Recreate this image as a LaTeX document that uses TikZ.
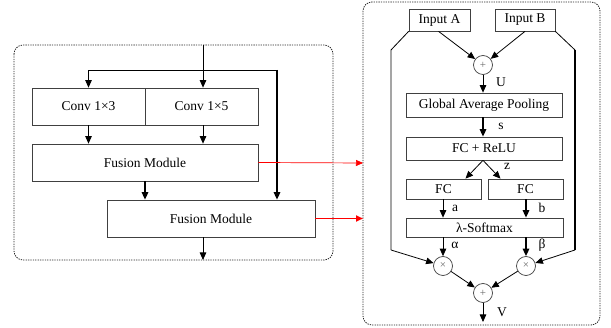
\documentclass[tikz,border=0pt]{standalone}
\usepackage{fontspec}
\setmainfont{Liberation Serif}
\usetikzlibrary{arrows.meta,calc}

\tikzset{
  blk/.style={draw=black!75, line width=0.7pt, inner sep=0pt, font=\fontsize{13.5}{15}\selectfont},
  opc/.style={draw=black!75, line width=0.7pt, circle, minimum size=19pt, inner sep=0pt, text=black!60, font=\fontsize{11}{12}\selectfont},
  arr/.style={line width=0.8pt, -{Triangle[length=7.5pt,width=6.5pt]}},
  tarr/.style={line width=1.5pt, -{Triangle[length=7.5pt,width=6.5pt]}},
  lbl/.style={font=\fontsize{13.5}{15}\selectfont},
  frame/.style={draw=black!85, line width=0.8pt, dash pattern=on 1.3pt off 1.1pt, rounded corners=9pt}
}

\begin{document}
\begin{tikzpicture}[x=1pt,y=-1pt]
    \useasboundingbox (0,0) rectangle (611,328);

    % left block
    \draw[frame] (14,45) rectangle (333,260);

    \node[blk, minimum width=113pt, minimum height=37pt] (conv13) at (88.5,106.5) {Conv 1×3};
    \node[blk, minimum width=113pt, minimum height=37pt] (conv15) at (201.5,106.5) {Conv 1×5};
    \node[blk, minimum width=226pt, minimum height=37pt] (fus1) at (145,162.5) {Fusion Module};
    \node[blk, minimum width=208pt, minimum height=37pt] (fus2) at (211,218.5) {Fusion Module};

    \coordinate (top) at (203,45);
    \coordinate (split) at (203,70);
    \coordinate (rb) at (277,70);
    \coordinate (out) at (203,260);

    \draw[line width=0.8pt] (top) -- (split);
    \draw[arr] (split) -| (conv13.north);
    \draw[arr] (split) -- (split |- conv15.north);
    \draw[line width=0.8pt] (split) -- (rb);
    \draw[tarr] (rb) -- (rb |- fus2.north);
    \draw[arr] (conv13.south) -- (conv13.south |- fus1.north);
    \draw[arr] (split |- conv15.south) -- (split |- fus1.north);
    \draw[tarr] (fus1.south) -- (fus1.south |- fus2.north);
    \draw[arr] (out |- fus2.south) -- (out);

    % right block
    \draw[frame] (363,2) rectangle (600,325);

    \node[blk, minimum width=61pt, minimum height=22pt] (inA) at (439.5,20) {Input A};
    \node[blk, minimum width=60pt, minimum height=22pt] (inB) at (525,20) {Input B};
    \node[opc] (sum1) at (483,65) {+};
    \node[blk, minimum width=156pt, minimum height=24pt] (gap) at (484,105) {Global Average Pooling};
    \node[blk, minimum width=156pt, minimum height=23pt] (fcr) at (484,148.5) {FC + ReLU};
    \node[blk, minimum width=75pt, minimum height=20pt] (fca) at (443.5,189) {FC};
    \node[blk, minimum width=75pt, minimum height=20pt] (fcb) at (525.5,189) {FC};
    \node[blk, minimum width=157pt, minimum height=19pt] (smax) at (484.5,227.5) {λ-Softmax};
    \node[opc] (mula) at (443,266) {×};
    \node[opc] (mulb) at (526,266) {×};
    \node[opc] (sum2) at (483,293) {+};

    \coordinate (la) at (391,50);
    \coordinate (lb) at (391,250);
    \coordinate (ra) at (575,50);
    \coordinate (rbb) at (575,250);
    \coordinate (vend) at (483,322);

    \draw[arr] ([xshift=-1pt]inA.south) -- (sum1);
    \draw[arr] (inB.south) -- (sum1);
    \draw[arr] (sum1) -- (sum1 |- gap.north);
    \draw[tarr] (sum1 |- gap.south) -- (sum1 |- fcr.north);
    \draw[arr] (sum1 |- fcr.south) -- ([xshift=22pt]fca.north);
    \draw[arr] (sum1 |- fcr.south) -- ([xshift=-25pt]fcb.north);
    \draw[arr] (mula |- fca.south) -- (mula |- smax.north);
    \draw[tarr] (mulb |- fcb.south) -- (mulb |- smax.north);
    \draw[arr] (mula |- smax.south) -- (mula);
    \draw[tarr] (mulb |- smax.south) -- (mulb);
    \draw[line width=0.8pt] (inA.south west) -- (la) -- (lb);
    \draw[arr] (lb) -- (mula);
    \draw[line width=0.8pt] (inB.south east) -- (ra);
    \draw[line width=1.5pt] (ra) -- (rbb);
    \draw[arr] (rbb) -- (mulb);
    \draw[arr] (mula) -- (sum2);
    \draw[arr] (mulb) -- (sum2);
    \draw[arr] (sum2) -- (vend);

    \node[lbl] at (501,82) {U};
    \node[lbl] at (501,126) {s};
    \node[lbl] at (507,166) {z};
    \node[lbl] at (455,208) {a};
    \node[lbl] at (542,208) {b};
    \node[lbl] at (455,245) {α};
    \node[lbl] at (542,245) {β};
    \node[lbl] at (502,312) {V};

    % links between the blocks
    \coordinate (hit1) at (363,163);
    \coordinate (hit2) at (363,218.5);
    \draw[red, line width=0.7pt, -{Triangle[length=7pt,width=6pt]}] (fus1.east) -- (hit1);
    \draw[red, line width=1.6pt, -{Triangle[length=7pt,width=6pt]}] (fus2.east) -- (hit2);
\end{tikzpicture}
\end{document}
